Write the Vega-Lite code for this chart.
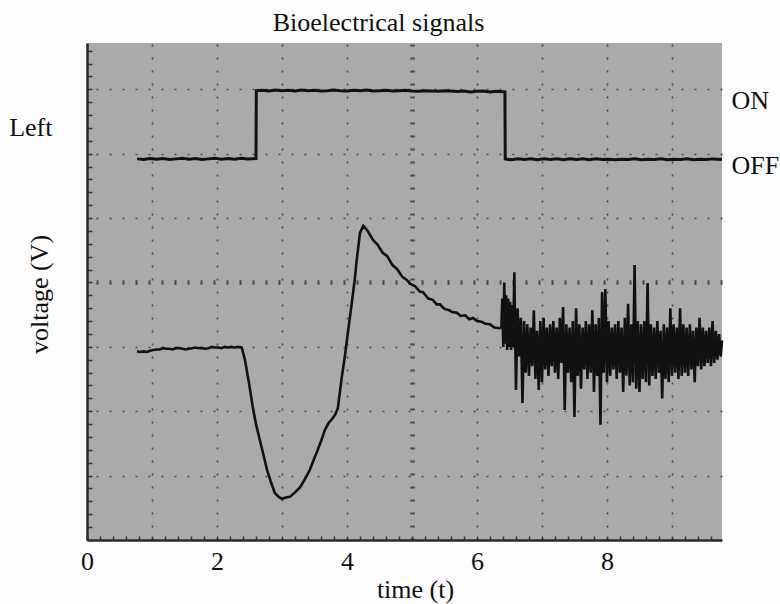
{
  "$schema": "https://vega.github.io/schema/vega-lite/v6.json",
  "width": 635,
  "height": 497,
  "autosize": {"type": "none"},
  "padding": {"left": 87, "top": 43, "right": 58, "bottom": 64},
  "background": "#fdfdfd",
  "config": {
    "font": "Liberation Serif",
    "view": {"fill": "#aaaaaa", "stroke": null},
    "axis": {"labelFontSize": 26, "titleFontSize": 26, "labelColor": "#111", "titleColor": "#111", "titleFontWeight": "normal", "labelOverlap": false, "labelFlush": false}
  },
  "title": {"text": "Bioelectrical signals", "fontSize": 26, "fontWeight": "normal", "color": "#111", "anchor": "middle", "frame": "group", "dx": -26, "offset": 2},
  "datasets": {
    "signal": [
      {"t":0.77,"v":2.93},{"t":0.82,"v":2.92},{"t":0.87,"v":2.93},{"t":0.92,"v":2.92},{"t":0.97,"v":2.94},{"t":1.02,"v":2.95},{"t":1.07,"v":2.96},{"t":1.12,"v":2.96},{"t":1.17,"v":2.98},{"t":1.22,"v":2.97},{"t":1.27,"v":2.97},{"t":1.32,"v":2.96},{"t":1.37,"v":2.98},{"t":1.42,"v":2.98},{"t":1.47,"v":2.97},{"t":1.52,"v":2.96},{"t":1.57,"v":2.97},{"t":1.62,"v":2.98},{"t":1.67,"v":2.99},{"t":1.72,"v":2.98},{"t":1.77,"v":2.98},{"t":1.82,"v":2.97},{"t":1.87,"v":2.98},{"t":1.92,"v":3.00},{"t":1.97,"v":2.99},{"t":2.02,"v":2.99},{"t":2.07,"v":2.98},{"t":2.12,"v":3.00},{"t":2.17,"v":2.99},{"t":2.22,"v":3.00},{"t":2.27,"v":2.99},{"t":2.32,"v":3.00},{"t":2.38,"v":2.99},
      {"t":2.43,"v":2.80},{"t":2.49,"v":2.45},{"t":2.55,"v":2.07},{"t":2.60,"v":1.80},{"t":2.66,"v":1.55},{"t":2.72,"v":1.30},{"t":2.77,"v":1.09},{"t":2.83,"v":0.90},{"t":2.89,"v":0.73},{"t":2.95,"v":0.67},{"t":3.00,"v":0.64},{"t":3.06,"v":0.66},{"t":3.12,"v":0.67},{"t":3.20,"v":0.74},{"t":3.28,"v":0.82},{"t":3.35,"v":0.94},{"t":3.43,"v":1.09},{"t":3.49,"v":1.25},{"t":3.55,"v":1.40},{"t":3.61,"v":1.56},{"t":3.66,"v":1.71},{"t":3.72,"v":1.82},{"t":3.78,"v":1.89},{"t":3.82,"v":1.95},{"t":3.86,"v":2.05},{"t":3.92,"v":2.53},{"t":3.96,"v":2.80},{"t":4.00,"v":3.11},{"t":4.04,"v":3.42},{"t":4.08,"v":3.73},{"t":4.12,"v":4.05},{"t":4.15,"v":4.35},{"t":4.18,"v":4.60},{"t":4.20,"v":4.77},{"t":4.25,"v":4.88},
      {"t":4.32,"v":4.80},{"t":4.40,"v":4.66},{"t":4.47,"v":4.59},{"t":4.55,"v":4.46},{"t":4.62,"v":4.41},{"t":4.70,"v":4.27},{"t":4.77,"v":4.21},{"t":4.85,"v":4.09},{"t":4.92,"v":4.04},{"t":4.97,"v":3.98},{"t":5.05,"v":3.94},{"t":5.12,"v":3.86},{"t":5.17,"v":3.85},{"t":5.25,"v":3.75},{"t":5.32,"v":3.73},{"t":5.38,"v":3.66},{"t":5.43,"v":3.66},{"t":5.50,"v":3.59},{"t":5.57,"v":3.57},{"t":5.62,"v":3.54},{"t":5.69,"v":3.53},{"t":5.75,"v":3.48},{"t":5.82,"v":3.49},{"t":5.88,"v":3.43},{"t":5.94,"v":3.45},{"t":6.00,"v":3.40},{"t":6.07,"v":3.39},{"t":6.13,"v":3.36},{"t":6.20,"v":3.35},{"t":6.27,"v":3.30},{"t":6.35,"v":3.29},
      {"t":6.375,"v":3.30},{"t":6.390,"v":3.75},{"t":6.405,"v":3.00},{"t":6.420,"v":4.00},{"t":6.435,"v":3.05},{"t":6.450,"v":3.80},{"t":6.465,"v":2.95},{"t":6.480,"v":3.75},{"t":6.495,"v":3.00},{"t":6.510,"v":3.70},{"t":6.525,"v":2.95},{"t":6.540,"v":3.65},{"t":6.555,"v":3.00},{"t":6.575,"v":4.16},{"t":6.600,"v":2.33},{"t":6.625,"v":3.60},{"t":6.650,"v":2.85},{"t":6.675,"v":3.45},{"t":6.700,"v":2.13},{"t":6.725,"v":3.40},{"t":6.750,"v":2.60},{"t":6.775,"v":3.35},{"t":6.800,"v":2.55},{"t":6.825,"v":3.30},{"t":6.850,"v":2.70},{"t":6.875,"v":3.57},{"t":6.900,"v":2.50},{"t":6.925,"v":3.25},{"t":6.950,"v":2.33},{"t":6.975,"v":3.40},{"t":7.000,"v":2.45},{"t":7.025,"v":3.45},{"t":7.050,"v":2.65},{"t":7.075,"v":3.30},{"t":7.100,"v":2.55},{"t":7.125,"v":3.35},{"t":7.150,"v":2.70},{"t":7.175,"v":3.40},{"t":7.200,"v":2.60},{"t":7.225,"v":3.30},{"t":7.250,"v":2.50},{"t":7.275,"v":3.45},{"t":7.300,"v":2.75},{"t":7.325,"v":3.62},{"t":7.350,"v":2.02},{"t":7.375,"v":3.35},{"t":7.400,"v":2.60},{"t":7.425,"v":3.30},{"t":7.450,"v":2.45},{"t":7.475,"v":3.40},{"t":7.500,"v":1.91},{"t":7.525,"v":3.60},{"t":7.550,"v":2.55},{"t":7.575,"v":3.35},{"t":7.600,"v":2.35},{"t":7.625,"v":3.30},{"t":7.650,"v":2.65},{"t":7.675,"v":3.40},{"t":7.700,"v":2.50},{"t":7.725,"v":3.35},{"t":7.750,"v":2.60},{"t":7.775,"v":3.57},{"t":7.800,"v":2.30},{"t":7.825,"v":3.35},{"t":7.850,"v":2.55},{"t":7.875,"v":3.45},{"t":7.900,"v":1.79},{"t":7.925,"v":3.85},{"t":7.950,"v":2.60},{"t":7.975,"v":3.90},{"t":8.000,"v":2.45},{"t":8.025,"v":3.40},{"t":8.050,"v":2.55},{"t":8.075,"v":3.30},{"t":8.100,"v":2.65},{"t":8.125,"v":3.35},{"t":8.150,"v":2.50},{"t":8.175,"v":3.40},{"t":8.200,"v":2.60},{"t":8.225,"v":3.30},{"t":8.250,"v":2.30},{"t":8.275,"v":3.45},{"t":8.300,"v":2.55},{"t":8.325,"v":3.67},{"t":8.350,"v":2.40},{"t":8.375,"v":3.35},{"t":8.400,"v":2.45},{"t":8.425,"v":4.27},{"t":8.450,"v":2.35},{"t":8.475,"v":3.40},{"t":8.500,"v":2.30},{"t":8.525,"v":3.35},{"t":8.550,"v":2.50},{"t":8.575,"v":3.40},{"t":8.600,"v":2.45},{"t":8.625,"v":3.99},{"t":8.650,"v":2.40},{"t":8.675,"v":3.35},{"t":8.700,"v":2.55},{"t":8.725,"v":3.30},{"t":8.750,"v":2.50},{"t":8.775,"v":3.40},{"t":8.800,"v":2.60},{"t":8.825,"v":3.25},{"t":8.850,"v":2.20},{"t":8.875,"v":3.35},{"t":8.900,"v":2.50},{"t":8.925,"v":3.30},{"t":8.950,"v":2.45},{"t":8.975,"v":3.60},{"t":9.000,"v":2.55},{"t":9.025,"v":3.35},{"t":9.050,"v":2.60},{"t":9.075,"v":3.30},{"t":9.100,"v":2.50},{"t":9.125,"v":3.60},{"t":9.150,"v":2.55},{"t":9.175,"v":3.35},{"t":9.200,"v":2.60},{"t":9.225,"v":3.30},{"t":9.250,"v":2.55},{"t":9.275,"v":3.35},{"t":9.300,"v":2.65},{"t":9.325,"v":3.25},{"t":9.350,"v":2.45},{"t":9.375,"v":3.30},{"t":9.400,"v":2.70},{"t":9.425,"v":3.45},{"t":9.450,"v":2.65},{"t":9.475,"v":3.30},{"t":9.500,"v":2.70},{"t":9.525,"v":3.25},{"t":9.550,"v":2.75},{"t":9.575,"v":3.30},{"t":9.600,"v":2.70},{"t":9.625,"v":3.40},{"t":9.650,"v":2.75},{"t":9.675,"v":3.25},{"t":9.700,"v":2.80},{"t":9.725,"v":3.20},{"t":9.750,"v":2.85},{"t":9.770,"v":3.10}
    ],
    "trigger": [
      {"t":0.77,"v":5.92},{"t":0.87,"v":5.91},{"t":0.97,"v":5.925},{"t":1.07,"v":5.915},{"t":1.17,"v":5.925},{"t":1.27,"v":5.91},{"t":1.37,"v":5.92},{"t":1.47,"v":5.93},{"t":1.57,"v":5.915},{"t":1.67,"v":5.925},{"t":1.77,"v":5.91},{"t":1.87,"v":5.92},{"t":1.97,"v":5.93},{"t":2.07,"v":5.915},{"t":2.17,"v":5.925},{"t":2.27,"v":5.915},{"t":2.37,"v":5.93},{"t":2.47,"v":5.92},{"t":2.60,"v":5.925},
      {"t":2.605,"v":6.98},{"t":2.70,"v":6.985},{"t":2.80,"v":6.975},{"t":2.90,"v":6.99},{"t":3.00,"v":6.98},{"t":3.10,"v":6.985},{"t":3.20,"v":6.975},{"t":3.30,"v":6.99},{"t":3.40,"v":6.98},{"t":3.50,"v":6.985},{"t":3.60,"v":6.975},{"t":3.70,"v":6.98},{"t":3.80,"v":6.99},{"t":3.90,"v":6.98},{"t":4.00,"v":6.975},{"t":4.10,"v":6.985},{"t":4.20,"v":6.98},{"t":4.30,"v":6.99},{"t":4.40,"v":6.975},{"t":4.50,"v":6.98},{"t":4.60,"v":6.985},{"t":4.70,"v":6.975},{"t":4.80,"v":6.98},{"t":4.90,"v":6.985},{"t":5.00,"v":6.975},{"t":5.10,"v":6.97},{"t":5.20,"v":6.98},{"t":5.30,"v":6.975},{"t":5.40,"v":6.97},{"t":5.50,"v":6.98},{"t":5.60,"v":6.975},{"t":5.70,"v":6.965},{"t":5.80,"v":6.975},{"t":5.90,"v":6.96},{"t":6.00,"v":6.97},{"t":6.10,"v":6.975},{"t":6.20,"v":6.96},{"t":6.30,"v":6.97},{"t":6.43,"v":6.96},
      {"t":6.435,"v":5.92},{"t":6.53,"v":5.905},{"t":6.63,"v":5.92},{"t":6.73,"v":5.91},{"t":6.83,"v":5.92},{"t":6.93,"v":5.905},{"t":7.03,"v":5.92},{"t":7.13,"v":5.91},{"t":7.23,"v":5.92},{"t":7.33,"v":5.905},{"t":7.43,"v":5.92},{"t":7.53,"v":5.91},{"t":7.63,"v":5.92},{"t":7.73,"v":5.905},{"t":7.83,"v":5.92},{"t":7.93,"v":5.91},{"t":8.03,"v":5.915},{"t":8.13,"v":5.905},{"t":8.23,"v":5.915},{"t":8.33,"v":5.91},{"t":8.43,"v":5.92},{"t":8.53,"v":5.905},{"t":8.63,"v":5.915},{"t":8.73,"v":5.91},{"t":8.83,"v":5.92},{"t":8.93,"v":5.905},{"t":9.03,"v":5.915},{"t":9.13,"v":5.91},{"t":9.23,"v":5.92},{"t":9.33,"v":5.905},{"t":9.43,"v":5.915},{"t":9.53,"v":5.91},{"t":9.63,"v":5.92},{"t":9.77,"v":5.91}
    ]
  },
  "resolve": {"axis": {"x": "independent", "y": "independent"}},
  "layer": [
    {
      "data": {"name": "signal"},
      "mark": {"type": "point", "opacity": 0},
      "encoding": {
        "x": {"field": "t", "type": "quantitative", "scale": {"domain": [0, 9.77], "nice": false, "zero": false},
          "axis": {"orient": "top", "values": [1,2,3,4,5,6,7,8,9], "grid": true, "gridColor": "#4a4a4a", "gridDash": [2, 11],
            "gridWidth": {"condition": {"test": "datum.value === 5", "value": 4.5}, "value": 1.6},
            "labels": false, "ticks": false, "domain": false, "title": null}},
        "y": {"field": "v", "type": "quantitative", "scale": {"domain": [0, 7.72], "nice": false, "zero": false},
          "axis": {"orient": "right", "values": [1,2,3,4,5,5.82,6,6.83,7], "grid": true, "gridColor": "#4a4a4a", "gridDash": [2, 11],
            "gridWidth": {"condition": {"test": "datum.value === 4", "value": 4.5}, "value": 1.6},
            "gridOpacity": {"condition": {"test": "datum.value === 5.82 || datum.value === 6.83", "value": 0}, "value": 1},
            "labelExpr": "datum.value === 6.83 ? 'ON' : (datum.value === 5.82 ? 'OFF' : '')",
            "labelPadding": 9, "labelAlign": "left", "labelBaseline": "middle",
            "ticks": false, "domain": false, "title": null}}
      }
    },
    {
      "data": {"name": "signal"},
      "mark": {"type": "line", "color": "#111111", "strokeWidth": 2.6},
      "encoding": {
        "x": {"field": "t", "type": "quantitative",
          "axis": {"orient": "bottom", "values": [0,0.2,0.4,0.6,0.8,1,1.2,1.4,1.6,1.8,2,2.2,2.4,2.6,2.8,3,3.2,3.4,3.6,3.8,4,4.2,4.4,4.6,4.8,5,5.2,5.4,5.6,5.8,6,6.2,6.4,6.6,6.8,7,7.2,7.4,7.6,7.8,8,8.2,8.4,8.6,8.8,9,9.2,9.4,9.6],
            "labelExpr": "indexof([0,2,4,6,8], datum.value) >= 0 ? ('' + datum.value) : ''",
            "grid": false, "ticks": true, "tickSize": -4, "tickColor": "#333", "tickWidth": 1.5,
            "domain": true, "domainColor": "#2a2a2a", "domainWidth": 2.5,
            "labelPadding": 12, "title": "time (t)", "titleX": 328, "titleY": 36, "titleBaseline": "top"}},
        "y": {"field": "v", "type": "quantitative",
          "axis": {"orient": "left", "values": [0,0.2,0.4,0.6,0.8,1,1.2,1.4,1.6,1.8,2,2.2,2.4,2.6,2.8,3,3.2,3.4,3.6,3.8,4,4.2,4.4,4.6,4.8,5,5.2,5.4,5.6,5.8,6,6.2,6.4,6.41,6.6,6.8,7,7.2,7.4,7.6],
            "labelExpr": "datum.value === 6.41 ? 'Left' : ''",
            "tickOpacity": {"condition": {"test": "datum.value === 6.41", "value": 0}, "value": 1},
            "grid": false, "ticks": true, "tickSize": -5, "tickColor": "#333", "tickWidth": 1.5,
            "domain": true, "domainColor": "#2a2a2a", "domainWidth": 2.5,
            "labelPadding": 40, "labelBaseline": "middle",
            "title": "voltage (V)", "titleX": -35, "titleY": 251, "titleAngle": -90}}
      }
    },
    {
      "data": {"name": "trigger"},
      "mark": {"type": "line", "color": "#111111", "strokeWidth": 3},
      "encoding": {
        "x": {"field": "t", "type": "quantitative", "axis": null},
        "y": {"field": "v", "type": "quantitative", "axis": null}
      }
    }
  ]
}
